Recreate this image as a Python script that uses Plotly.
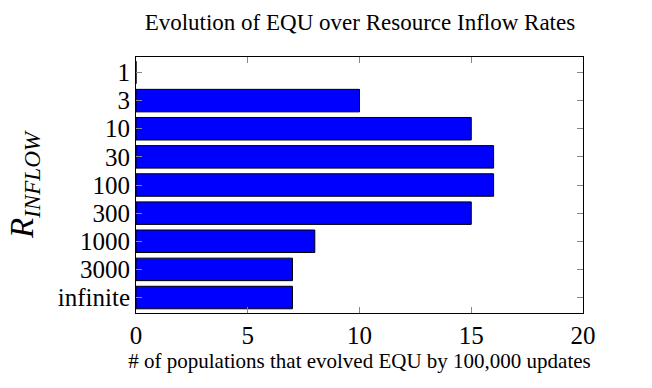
import plotly.graph_objects as go

categories = ["1", "3", "10", "30", "100", "300", "1000", "3000", "infinite"]
values = [0, 10, 15, 16, 16, 15, 8, 7, 7]
x_ticks = [0, 5, 10, 15, 20]

font = "Liberation Serif, Times New Roman, serif"

fig = go.Figure(go.Bar(
    x=values, y=categories, orientation="h",
    marker=dict(color="#0000ff", line=dict(color="black", width=1)),
    width=0.8,
))

fig.update_layout(
    width=652, height=388,
    margin=dict(l=136, r=69, t=57, b=75),
    paper_bgcolor="white", plot_bgcolor="white",
    showlegend=False,
    font=dict(family=font, size=18, color="black"),
    title=dict(text="Evolution of EQU over Resource Inflow Rates",
               x=0.552, xanchor="center", y=0.943, yanchor="middle",
               font=dict(family=font, size=23, color="black")),
    xaxis=dict(range=[0, 20], tickmode="array", tickvals=x_ticks, ticks="inside", ticklen=6,
               tickcolor="#888888", showline=True, linecolor="black", linewidth=1,
               mirror="ticks", showgrid=False, zeroline=False,
               tickfont=dict(family=font, size=25, color="black"),
               title=dict(text="# of populations that evolved EQU by 100,000 updates",
                          font=dict(family=font, size=21, color="black"), standoff=1)),
    yaxis=dict(categoryorder="array", categoryarray=categories,
               tickmode="array", tickvals=categories, ticktext=categories,
               range=[8.55, -0.55], ticks="inside", ticklen=6,
               tickcolor="#888888", showline=True, linecolor="black", linewidth=1,
               mirror="ticks", showgrid=False, zeroline=False,
               tickfont=dict(family=font, size=25, color="black"),
               title=dict(text="<i>R</i><sub><i>INFLOW</i></sub>",
                          font=dict(family=font, size=33, color="black"), standoff=14)),
)

fig.write_html("out.html")
